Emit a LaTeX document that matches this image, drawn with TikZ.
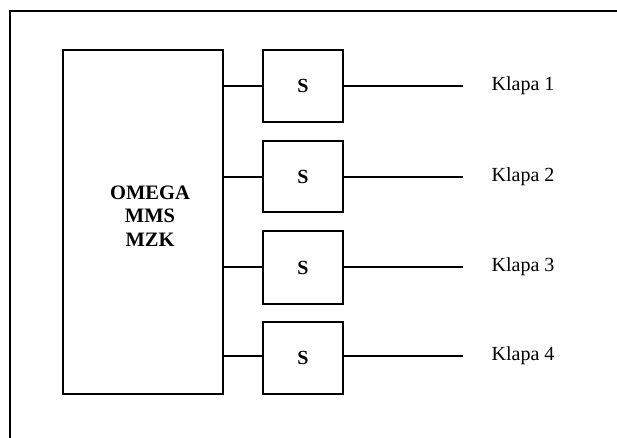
\documentclass[tikz,border=0pt]{standalone}
\usepackage{fontspec}
\setmainfont{Liberation Serif}
\begin{document}
\begin{tikzpicture}[x=1pt,y=-1pt,line width=1.3pt,
  sbox/.style={draw,minimum width=80pt,minimum height=72pt,inner sep=0pt,font=\fontsize{20}{24}\selectfont\bfseries},
  label/.style={anchor=west,inner sep=0pt,font=\fontsize{20}{24}\selectfont},
  wire/.style={line width=1.3pt}]
\useasboundingbox (0,0) rectangle (617,438);
\begin{scope}
\clip (0,0) rectangle (617,438);
\draw (10,460) -- (10,11) -- (640,11);
\end{scope}
\node[draw,minimum width=160pt,minimum height=344pt,inner sep=0pt] (main) at (143,222) {};
\node[align=center,inner sep=0pt,font=\fontsize{20.5}{23.5}\selectfont\bfseries] (mt) at (150,216) {OMEGA\\MMS\\MZK};
\node[sbox] (s1) at (303,86) {S};
\node[sbox,minimum height=71pt] (s2) at (303,176.5) {S};
\node[sbox,minimum height=73pt] (s3) at (303,267.5) {S};
\node[sbox] (s4) at (303,358) {S};
\coordinate (e1) at (463,86);
\coordinate (e2) at (463,177);
\coordinate (e3) at (463,267);
\coordinate (e4) at (463,356);
\node[label] (k1) at (491,86) {Klapa 1};
\node[label] (k2) at (491,177) {Klapa 2};
\node[label] (k3) at (491,267) {Klapa 3};
\node[label] (k4) at (491,356) {Klapa 4};
\draw[wire] (main.east |- 0,86) -- (s1.west |- 0,86);
\draw[wire] (main.east |- 0,177) -- (s2.west |- 0,177);
\draw[wire] (main.east |- 0,267) -- (s3.west |- 0,267);
\draw[wire] ([xshift=-2pt]main.east |- 0,356) -- (s4.west |- 0,356);
\draw[wire] (s1.east |- e1) -- (e1);
\draw[wire] (s2.east |- e2) -- (e2);
\draw[wire] (s3.east |- e3) -- (e3);
\draw[wire] ([xshift=-2pt]s4.east |- e4) -- (e4);
\end{tikzpicture}
\end{document}
